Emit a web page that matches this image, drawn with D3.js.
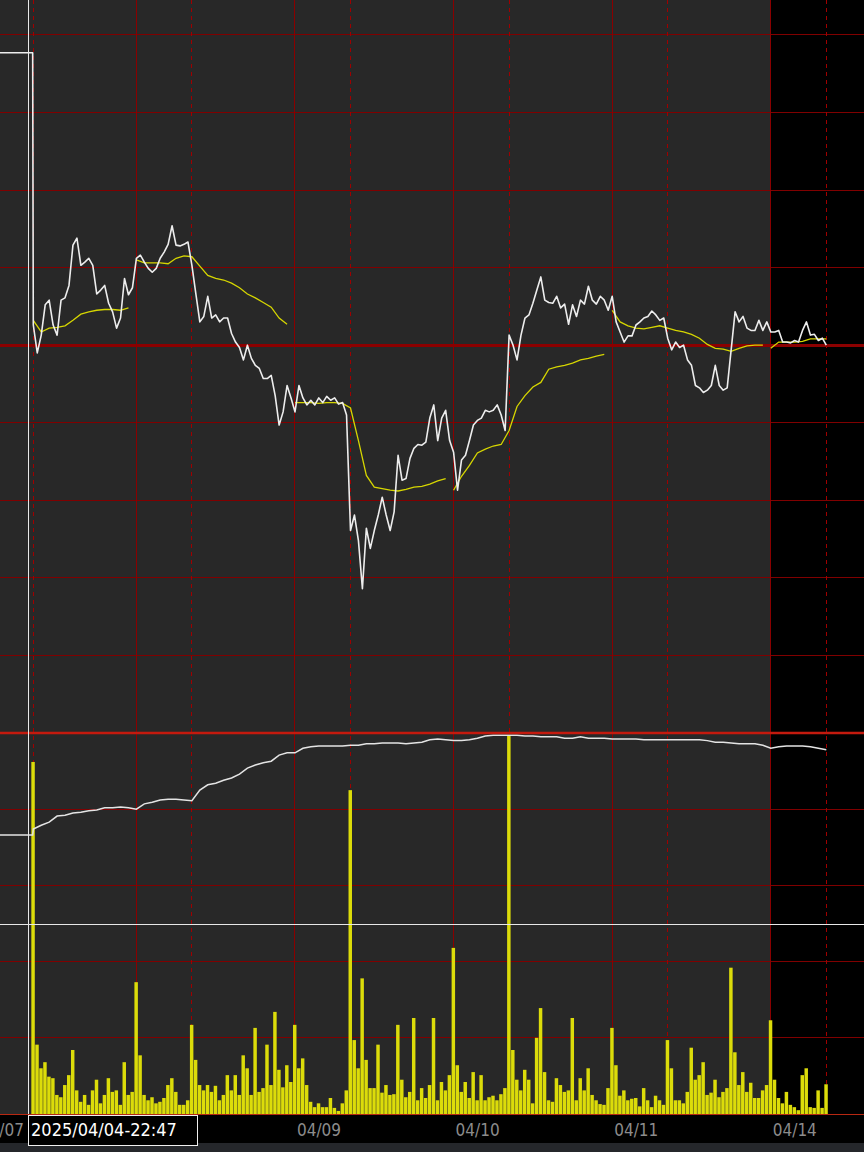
<!DOCTYPE html>
<html>
<head>
<meta charset="utf-8">
<script src="https://cdnjs.cloudflare.com/ajax/libs/d3/7.8.5/d3.min.js"></script>
<style>
body { margin: 0; background: #000; }
svg { display: block; }
</style>
</head>
<body>
<svg class="chart"></svg>
<script>
// price, % from previous close, one point every 1/40 of a session
var pricePct = [
    0.26, -0.10, 0.13, 0.52, 0.58, 0.26, 0.13, 0.58, 0.61, 0.77,
    1.29, 1.38, 1.03, 1.07, 1.12, 1.03, 0.66, 0.71, 0.77, 0.54,
    0.43, 0.22, 0.35, 0.86, 0.65, 0.74, 1.12, 1.16, 1.07, 0.99,
    0.94, 0.99, 1.12, 1.20, 1.30, 1.54, 1.29, 1.28, 1.30, 1.33,
    1.03, 0.66, 0.30, 0.37, 0.63, 0.35, 0.39, 0.30, 0.35, 0.35,
    0.15, 0.04, -0.03, -0.19, 0.00, -0.17, -0.26, -0.30, -0.43, -0.43,
    -0.39, -0.65, -1.03, -0.86, -0.52, -0.68, -0.86, -0.52, -0.68, -0.77,
    -0.71, -0.77, -0.68, -0.74, -0.66, -0.71, -0.68, -0.76, -0.74, -0.90,
    -2.39, -2.19, -2.52, -3.14, -2.36, -2.62, -2.39, -2.19, -1.96, -2.19,
    -2.39, -2.15, -1.42, -1.74, -1.72, -1.46, -1.33, -1.28, -1.29, -1.25,
    -0.94, -0.77, -1.23, -0.94, -0.84, -1.23, -1.38, -1.87, -1.48, -1.42,
    -1.23, -1.03, -0.97, -0.94, -0.84, -0.86, -0.84, -0.77, -0.90, -1.10,
    0.13, 0.00, -0.19, 0.13, 0.35, 0.39, 0.54, 0.71, 0.88, 0.58,
    0.55, 0.54, 0.63, 0.48, 0.53, 0.27, 0.52, 0.37, 0.58, 0.53,
    0.76, 0.58, 0.53, 0.63, 0.58, 0.45, 0.63, 0.30, 0.17, 0.04,
    0.12, 0.12, 0.26, 0.30, 0.35, 0.37, 0.44, 0.39, 0.32, 0.35,
    0.09, -0.06, 0.04, -0.03, 0.00, -0.19, -0.26, -0.52, -0.55, -0.61,
    -0.58, -0.52, -0.26, -0.52, -0.58, -0.55, -0.06, 0.43, 0.30, 0.37,
    0.22, 0.19, 0.19, 0.32, 0.19, 0.30, 0.17, 0.17, 0.19, 0.04,
    0.04, 0.03, 0.06, 0.04, 0.19, 0.30, 0.13, 0.14, 0.06, 0.09,
    0.00
];
var prevPricePct = 3.77;

// average price line, one point every 1/20 of a session, restarts at the listed points
var vwapPct = [
    0.32, 0.17, 0.22, 0.23, 0.25, 0.32, 0.40, 0.43, 0.45, 0.46,
    0.46, 0.45, 0.48, 1.10, 1.06, 1.06, 1.06, 1.05, 1.12, 1.15,
    1.14, 1.02, 0.90, 0.86, 0.84, 0.80, 0.74, 0.66, 0.61, 0.55,
    0.49, 0.35, 0.27, -0.74, -0.74, -0.74, -0.75, -0.74, -0.74, -0.75,
    -0.81, -1.23, -1.68, -1.83, -1.85, -1.87, -1.88, -1.86, -1.83, -1.82,
    -1.79, -1.75, -1.72, -1.87, -1.69, -1.55, -1.39, -1.34, -1.30, -1.28,
    -1.10, -0.79, -0.65, -0.54, -0.48, -0.31, -0.28, -0.26, -0.23, -0.19,
    -0.17, -0.14, -0.12, 0.45, 0.30, 0.25, 0.22, 0.21, 0.23, 0.25,
    0.22, 0.19, 0.17, 0.14, 0.09, 0.01, -0.04, -0.05, -0.08, -0.04,
    -0.01, 0.00, 0.00, -0.04, 0.04, 0.04, 0.04, 0.05, 0.08, 0.08,
    0.08
];
var vwapResets = [13, 33, 53, 73, 93];

// volume per 1/40 of a session
var volume = [
    4.62, 0.91, 0.60, 0.68, 0.49, 0.47, 0.25, 0.22, 0.38, 0.51,
    0.84, 0.31, 0.16, 0.25, 0.12, 0.31, 0.45, 0.14, 0.25, 0.47,
    0.29, 0.31, 0.12, 0.68, 0.25, 0.29, 1.73, 0.77, 0.25, 0.18,
    0.22, 0.14, 0.16, 0.21, 0.38, 0.47, 0.29, 0.12, 0.12, 0.18,
    1.17, 0.71, 0.38, 0.31, 0.38, 0.29, 0.37, 0.18, 0.25, 0.51,
    0.31, 0.51, 0.25, 0.77, 0.60, 0.25, 1.13, 0.29, 0.34, 0.91,
    0.38, 1.34, 0.58, 0.35, 0.64, 0.42, 1.17, 0.60, 0.73, 0.38,
    0.16, 0.09, 0.14, 0.09, 0.09, 0.21, 0.08, 0.04, 0.14, 0.31,
    4.25, 0.97, 0.60, 1.78, 0.71, 0.34, 0.34, 0.91, 0.28, 0.38,
    0.25, 0.26, 1.17, 0.45, 0.22, 0.29, 1.26, 0.18, 0.34, 0.21,
    0.38, 1.26, 0.18, 0.42, 0.31, 0.51, 2.18, 0.64, 0.29, 0.42,
    0.21, 0.55, 0.18, 0.51, 0.18, 0.22, 0.24, 0.18, 0.26, 0.34,
    4.97, 0.84, 0.45, 0.31, 0.58, 0.45, 0.14, 1.00, 1.39, 0.55,
    0.18, 0.16, 0.47, 0.38, 0.29, 0.31, 1.26, 0.18, 0.47, 0.31,
    0.60, 0.25, 0.18, 0.13, 0.12, 0.34, 1.13, 0.64, 0.24, 0.31,
    0.18, 0.20, 0.21, 0.10, 0.34, 0.18, 0.09, 0.24, 0.18, 0.12,
    0.97, 0.60, 0.18, 0.18, 0.14, 0.29, 0.87, 0.45, 0.51, 0.68,
    0.25, 0.28, 0.45, 0.22, 0.29, 0.34, 1.92, 0.81, 0.38, 0.55,
    0.29, 0.41, 0.21, 0.21, 0.31, 0.38, 1.23, 0.45, 0.21, 0.14,
    0.29, 0.12, 0.09, 0.05, 0.51, 0.60, 0.09, 0.08, 0.31, 0.08,
    0.39
];

// lower white line, one point every 1/20 of a session
var cumLine = [
    3.74, 3.79, 3.83, 3.91, 3.92, 3.95, 3.96, 3.98, 3.99, 4.02,
    4.02, 4.03, 4.02, 4.00, 4.07, 4.09, 4.12, 4.13, 4.13, 4.12,
    4.11, 4.25, 4.32, 4.34, 4.38, 4.41, 4.46, 4.54, 4.58, 4.61,
    4.63, 4.71, 4.74, 4.74, 4.80, 4.82, 4.83, 4.83, 4.83, 4.83,
    4.84, 4.84, 4.86, 4.86, 4.87, 4.87, 4.87, 4.86, 4.87, 4.88,
    4.91, 4.92, 4.91, 4.90, 4.90, 4.91, 4.93, 4.96, 4.97, 4.97,
    4.97, 4.97, 4.96, 4.96, 4.95, 4.95, 4.95, 4.93, 4.93, 4.95,
    4.93, 4.93, 4.93, 4.92, 4.92, 4.92, 4.92, 4.91, 4.91, 4.91,
    4.91, 4.91, 4.91, 4.91, 4.91, 4.90, 4.88, 4.88, 4.87, 4.86,
    4.86, 4.86, 4.84, 4.80, 4.82, 4.83, 4.83, 4.83, 4.82, 4.80,
    4.78
];
var prevCumLine = 3.66;

var dayLabels = ['04/07', '04/08', '04/09', '04/10', '04/11', '04/14'];
var dayLabelTimes = [-0.35, 0.65, 1.65, 2.65, 3.65, 4.65];
var sessionStarts = [0, 1, 2, 3, 4, 5];
var priceGrid = [-4, -3, -2, -1, 1, 2, 3, 4];
var lowerGrid = [1, 2, 3, 4];
var cursorTime = -0.033;
var cursorValue = 2.49;
var cursorLabel = '2025/04/04-22:47';
var todayStart = 4.65;

var svgWidth = 864,
    svgHeight = 1152;
var priceBottom = 733,
    lowerBottom = 1114,
    axisBottom = 1143;
var labelBoxWidth = 169;

var svg = d3.select('.chart')
    .attr('width', svgWidth)
    .attr('height', svgHeight);

var x = d3.scaleLinear()
    .domain([-0.21, 5.2377])
    .range([0, svgWidth]);

var yPrice = d3.scaleLinear()
    .domain([-5, 4.45])
    .range([priceBottom, 0]);

var yLower = d3.scaleLinear()
    .domain([0, 5])
    .range([lowerBottom, priceBottom]);

// snap a 1px line onto a pixel column/row
function px(v) {
    return Math.round(v - 0.5) + 0.5;
}

// backgrounds
svg.append('rect')
    .attr('width', svgWidth).attr('height', lowerBottom)
    .attr('fill', '#282828');
svg.append('rect')
    .attr('x', Math.round(x(todayStart)))
    .attr('width', svgWidth - Math.round(x(todayStart))).attr('height', lowerBottom)
    .attr('fill', '#000');
svg.append('rect')
    .attr('y', lowerBottom).attr('width', svgWidth).attr('height', axisBottom - lowerBottom)
    .attr('fill', '#000');
svg.append('rect')
    .attr('y', axisBottom).attr('width', svgWidth).attr('height', svgHeight - axisBottom)
    .attr('fill', '#25272b');

var grid = svg.append('g').attr('shape-rendering', 'crispEdges');

grid.selectAll('.pgrid')
    .data(priceGrid)
    .enter()
    .append('line')
    .attr('x1', 0).attr('x2', svgWidth)
    .attr('y1', function (d) { return px(yPrice(d)); })
    .attr('y2', function (d) { return px(yPrice(d)); })
    .attr('stroke', '#800000');

grid.selectAll('.lgrid')
    .data(lowerGrid)
    .enter()
    .append('line')
    .attr('x1', 0).attr('x2', svgWidth)
    .attr('y1', function (d) { return px(yLower(d)); })
    .attr('y2', function (d) { return px(yLower(d)); })
    .attr('stroke', '#800000');

grid.selectAll('.vsolid')
    .data(dayLabelTimes)
    .enter()
    .append('line')
    .attr('x1', function (d) { return px(x(d)); })
    .attr('x2', function (d) { return px(x(d)); })
    .attr('y1', 0).attr('y2', lowerBottom)
    .attr('stroke', '#8a0000');

grid.selectAll('.vdash')
    .data(sessionStarts)
    .enter()
    .append('line')
    .attr('x1', function (d) { return px(x(d)); })
    .attr('x2', function (d) { return px(x(d)); })
    .attr('y1', 0).attr('y2', lowerBottom)
    .attr('stroke', '#a00000')
    .attr('stroke-dasharray', '4,4');

// zero line of the price panel
grid.append('line')
    .attr('x1', 0).attr('x2', svgWidth)
    .attr('y1', yPrice(0)).attr('y2', yPrice(0))
    .attr('stroke', '#8c0000')
    .attr('stroke-width', 3);

// volume bars
var barStep = x(1 / 40) - x(0);
svg.append('g')
    .selectAll('rect')
    .data(volume)
    .enter()
    .append('rect')
    .attr('x', function (d, i) { return x(i / 40) - barStep / 2; })
    .attr('width', barStep - 0.5)
    .attr('y', function (d) { return yLower(d); })
    .attr('height', function (d) { return lowerBottom - yLower(d); })
    .attr('fill', '#dcdc0a');

// lower white line
var cumPoints = [{ t: x.domain()[0], v: prevCumLine }, { t: -0.004, v: prevCumLine }]
    .concat(cumLine.map(function (d, j) { return { t: j / 20, v: d }; }));

var lowerLine = d3.line()
    .x(function (d) { return x(d.t); })
    .y(function (d) { return yLower(d.v); });

svg.append('path')
    .datum(cumPoints)
    .attr('fill', 'none')
    .attr('stroke', '#e4e4e4')
    .attr('stroke-width', 1.5)
    .attr('d', lowerLine);

// average price, broken at every restart
var bounds = [0].concat(vwapResets, [vwapPct.length]);
var vwapSegments = [];
for (var k = 0; k < bounds.length - 1; k++) {
    var seg = [];
    for (var j = bounds[k]; j < bounds[k + 1]; j++) {
        seg.push({ t: j / 20, v: vwapPct[j] });
    }
    vwapSegments.push(seg);
}

var priceLine = d3.line()
    .x(function (d) { return x(d.t); })
    .y(function (d) { return yPrice(d.v); });

svg.append('g')
    .selectAll('path')
    .data(vwapSegments)
    .enter()
    .append('path')
    .attr('fill', 'none')
    .attr('stroke', '#d6d600')
    .attr('stroke-width', 1.3)
    .attr('d', priceLine);

var pricePoints = [{ t: x.domain()[0], v: prevPricePct }, { t: -0.004, v: prevPricePct }]
    .concat(pricePct.map(function (d, i) { return { t: i / 40, v: d }; }));

svg.append('path')
    .datum(pricePoints)
    .attr('fill', 'none')
    .attr('stroke', '#ededed')
    .attr('stroke-width', 1.6)
    .attr('stroke-linejoin', 'round')
    .attr('d', priceLine);

// panel separator and baseline
svg.append('line')
    .attr('x1', 0).attr('x2', svgWidth)
    .attr('y1', priceBottom).attr('y2', priceBottom)
    .attr('stroke', '#c41a0e')
    .attr('stroke-width', 2.5);
svg.append('line')
    .attr('x1', 0).attr('x2', svgWidth)
    .attr('y1', lowerBottom + 0.5).attr('y2', lowerBottom + 0.5)
    .attr('stroke', '#b82812');

// cursor
svg.append('line')
    .attr('x1', px(x(cursorTime))).attr('x2', px(x(cursorTime)))
    .attr('y1', 0).attr('y2', lowerBottom)
    .attr('stroke', '#e8e8e8');
svg.append('line')
    .attr('x1', 0).attr('x2', svgWidth)
    .attr('y1', px(yLower(cursorValue))).attr('y2', px(yLower(cursorValue)))
    .attr('stroke', '#e8e8e8');

// date axis; the label under the cursor box is hidden, as on screen
var boxLeft = px(x(cursorTime)),
    boxRight = boxLeft + labelBoxWidth;
var shownLabels = dayLabels.map(function (d, i) {
    return { text: d, t: dayLabelTimes[i] };
}).filter(function (d) {
    var lx = x(d.t);
    return lx + 44 < boxLeft || lx > boxRight;
});

svg.append('g')
    .selectAll('text')
    .data(shownLabels)
    .enter()
    .append('text')
    .attr('x', function (d) { return x(d.t) + 2; })
    .attr('y', 1136)
    .attr('fill', '#8c8c8c')
    .attr('font-family', '"DejaVu Sans Condensed", "DejaVu Sans", sans-serif')
    .attr('font-stretch', 'condensed')
    .attr('font-size', 17)
    .text(function (d) { return d.text; });

svg.append('rect')
    .attr('x', boxLeft)
    .attr('y', lowerBottom + 1.5)
    .attr('width', labelBoxWidth)
    .attr('height', 30)
    .attr('fill', '#000')
    .attr('stroke', '#f0f0f0');

svg.append('text')
    .attr('x', x(cursorTime) + 3)
    .attr('y', 1136)
    .attr('fill', '#ffffff')
    .attr('font-family', '"DejaVu Sans Condensed", "DejaVu Sans", sans-serif')
    .attr('font-stretch', 'condensed')
    .attr('font-size', 18)
    .text(cursorLabel);
</script>
</body>
</html>
